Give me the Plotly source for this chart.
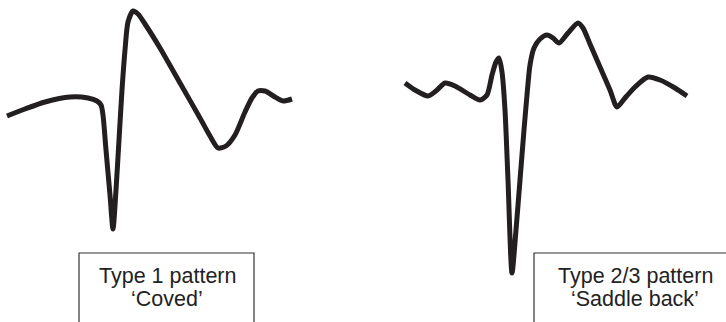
import plotly.graph_objects as go

# Waveform traces (time in px units, amplitude = downward px from top)
left_t = [7, 25, 45, 70, 88, 97, 101, 103, 106, 110, 113, 116, 119, 122, 125, 128, 133,
          138, 145, 160, 180, 200, 210, 218, 226, 235, 245, 252, 258, 265, 275, 283, 292]
left_v = [116, 109, 102, 97, 98, 101, 105, 115, 150, 195, 229, 190, 140, 90, 50, 22, 11,
          14, 24, 48, 83, 118, 136, 148, 146, 135, 112, 98, 91, 91, 97, 101, 99]

right_t = [405, 415, 428, 436, 445, 455, 470, 480, 487, 492, 496, 499, 502, 505, 508, 512,
           516, 520, 524, 527, 530, 534, 540, 547, 553, 559, 568, 578, 583, 590, 600, 610,
           617, 625, 635, 648, 660, 675, 687]
right_v = [83, 90, 96, 91, 83, 86, 95, 100, 95, 75, 62, 58, 72, 110, 180, 273,
           230, 180, 130, 95, 65, 48, 39, 35, 38, 43, 33, 23, 28, 44, 67, 90,
           107, 98, 87, 77, 80, 88, 96]

labels = [["Type 1 pattern", "\u2018Coved\u2019"],
          ["Type 2/3 pattern", "\u2018Saddle back\u2019"]]
label_x = [167, 635]
box_x0 = [79, 534]
box_x1 = [254, 740]

W, H = 726, 322
ink = "#231f20"

fig = go.Figure()
for t, v in [(left_t, left_v), (right_t, right_v)]:
    fig.add_trace(go.Scatter(x=t, y=v, mode="lines",
                             line=dict(color=ink, width=5, shape="spline", smoothing=0.7),
                             hoverinfo="skip", showlegend=False))

for i in range(2):
    fig.add_shape(type="rect", x0=box_x0[i], x1=box_x1[i], y0=253, y1=340,
                  line=dict(color="#333333", width=1.2), fillcolor="rgba(0,0,0,0)", layer="below")
    for j, ty in enumerate([276, 299]):
        fig.add_annotation(x=label_x[i], y=ty, text=labels[i][j], showarrow=False,
                           xanchor="center", yanchor="middle",
                           font=dict(family="Liberation Sans, Arial, sans-serif", size=21.5, color="#222222"))

fig.update_layout(
    width=W, height=H, autosize=False,
    margin=dict(l=0, r=0, t=0, b=0),
    paper_bgcolor="white", plot_bgcolor="white",
    xaxis=dict(range=[0, W], visible=False, fixedrange=True),
    yaxis=dict(range=[H, 0], visible=False, fixedrange=True),
)
fig.write_html("out.html", config={"displayModeBar": False},
               post_script="document.body.style.margin='0px';document.body.style.overflow='hidden';")
